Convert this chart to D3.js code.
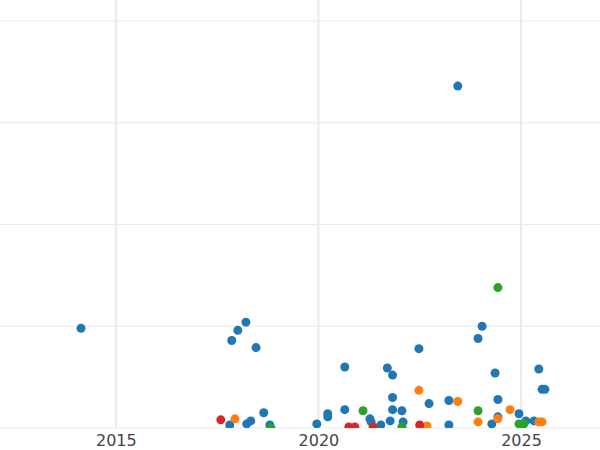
<!DOCTYPE html>
<html><head><meta charset="utf-8">
<script src="https://cdn.jsdelivr.net/npm/d3@7"></script>
<style>body{margin:0;background:#fff}</style>
</head><body><div id="chart"></div>
<script>
// series: [year, value]
const blue = [[2014.14,98],[2017.86,86],[2018.01,96],[2018.21,104],[2018.46,79],[2018.65,15],[2017.81,3],[2018.23,4],[2018.33,7],[2018.8,3],
  [2019.96,4],[2020.23,14],[2020.23,11],[2020.65,60],[2020.65,18],[2021.27,9],[2021.3,6],[2021.54,3],[2021.7,59],[2021.83,52],[2021.83,30],
  [2021.83,18],[2021.77,7],[2022.06,17],[2022.09,6],[2022.48,78],[2022.73,24],[2023.22,27],[2023.22,3],[2023.44,336],[2023.94,88],[2024.04,100],
  [2024.36,54],[2024.43,28],[2024.43,11],[2024.28,4],[2024.95,14],[2025.12,7],[2025.32,7],[2025.44,58],[2025.52,38],[2025.59,38]];
const orange = [[2017.94,9],[2022.48,37],[2022.68,2],[2023.44,26],[2023.94,6],[2024.43,9],[2024.73,18],[2025.44,6],[2025.52,6]];
const green = [[2018.83,0],[2021.1,17],[2022.06,1],[2023.94,17],[2024.43,138],[2024.95,4],[2025.07,4]];
const red = [[2017.59,8],[2020.75,1],[2020.9,1],[2021.35,1],[2022.5,3]];
const series = [blue, orange, green, red];
const colors = ["#1f77b4", "#ff7f0e", "#2ca02c", "#d62728"];
const xTicks = [2015, 2020, 2025];
const yTicks = [0, 100, 200, 300, 400];

const width = 600, height = 450, bottom = 428;
const x = d3.scaleLinear().domain([2012.14, 2026.95]).range([0, width]);
const y = d3.scaleLinear().domain([0, 400]).range([bottom, 21]);

const svg = d3.select('#chart').append('svg').attr('width', width).attr('height', height);
svg.append('clipPath').attr('id', 'clip').append('rect').attr('width', width).attr('height', bottom);

// grid
svg.selectAll('.hg').data(yTicks).join('line')
  .attr('x1', 0).attr('x2', width).attr('y1', d => y(d)).attr('y2', d => y(d))
  .attr('stroke', '#ebebeb').attr('stroke-width', 1);
svg.selectAll('.vg').data(xTicks).join('line')
  .attr('x1', d => x(d)).attr('x2', d => x(d)).attr('y1', 0).attr('y2', bottom)
  .attr('stroke', '#ebebeb').attr('stroke-width', 2);

const xAxis = svg.append('g').attr('transform', `translate(0,${bottom})`)
  .call(d3.axisBottom(x).tickValues(xTicks).tickFormat(d3.format('d')).tickSize(0).tickPadding(7));
xAxis.select('.domain').remove();
xAxis.selectAll('text').attr('font-family', 'DejaVu Sans, sans-serif').attr('font-size', 16).attr('fill', '#444');

const g = svg.append('g').attr('clip-path', 'url(#clip)');
series.forEach((s, i) => {
  g.selectAll(null).data(s).join('circle')
    .attr('cx', d => x(d[0])).attr('cy', d => y(d[1])).attr('r', 4.5)
    .attr('fill', colors[i]);
});
</script></body></html>
